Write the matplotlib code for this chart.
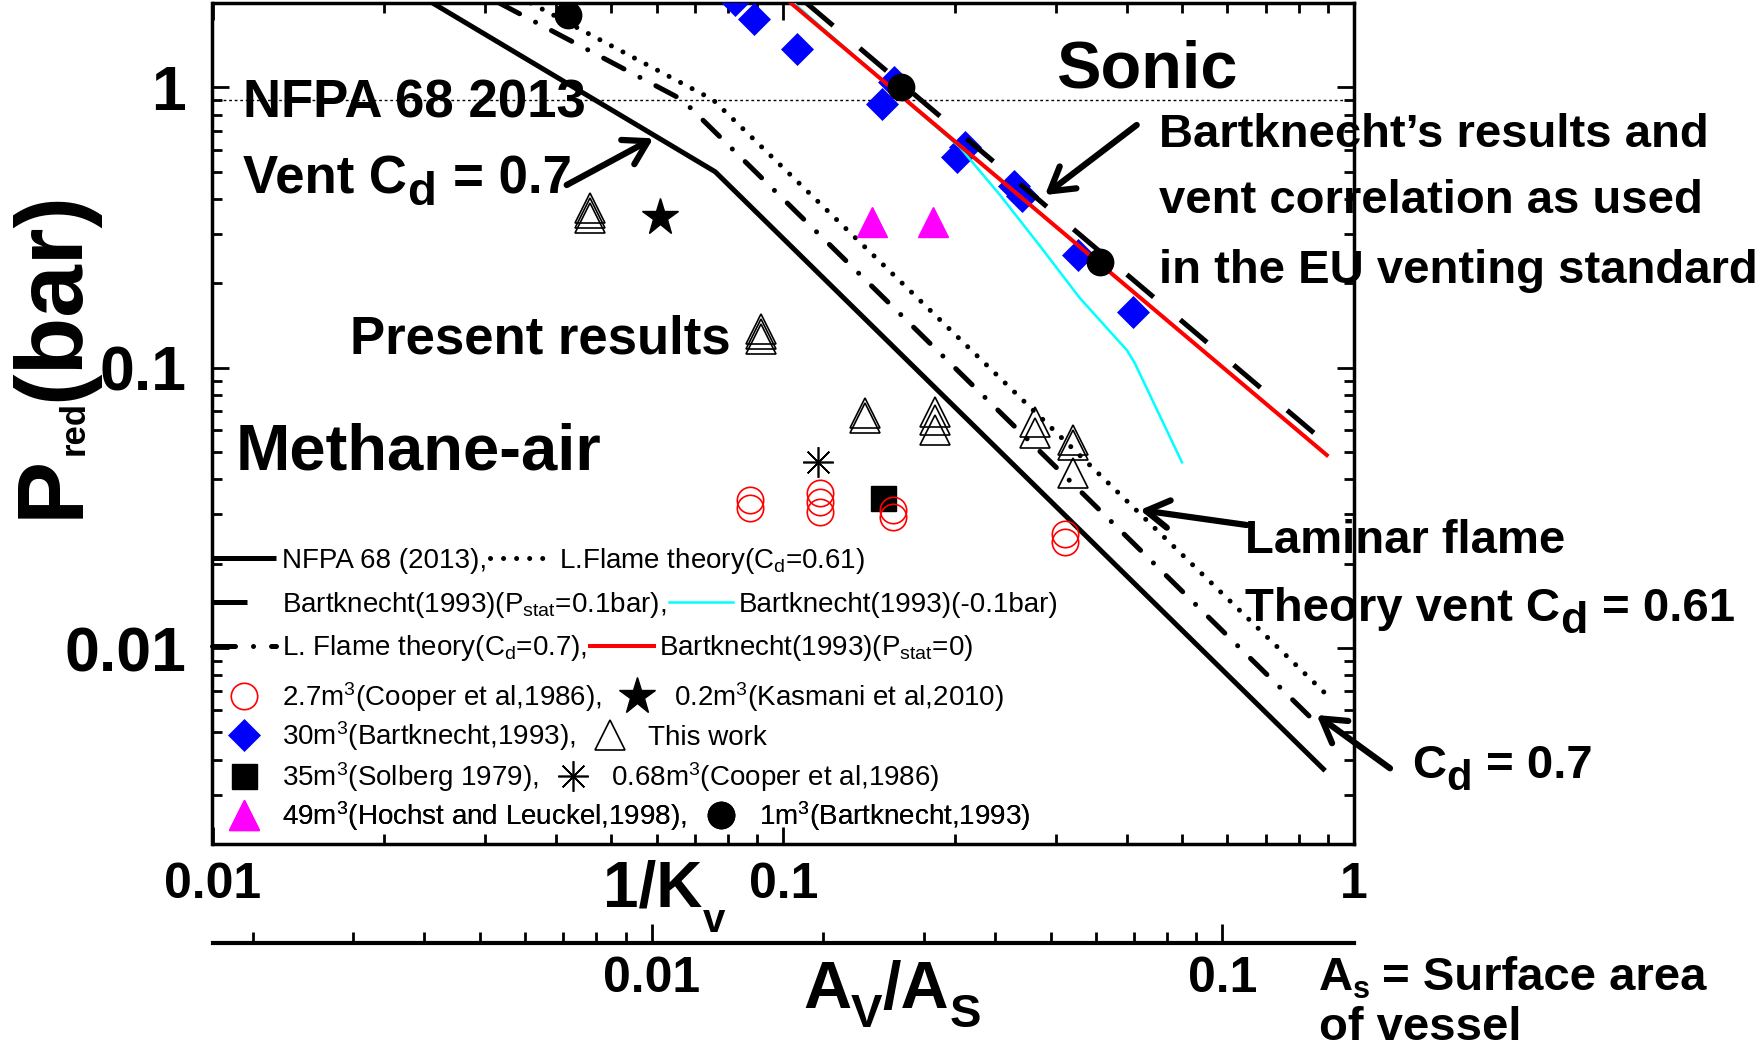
import matplotlib
matplotlib.use('Agg')
import matplotlib.pyplot as plt
from matplotlib.ticker import NullFormatter, LogLocator

plt.rcParams['font.family'] = ['Liberation Sans', 'DejaVu Sans']
plt.rcParams['mathtext.fontset'] = 'custom'
plt.rcParams['mathtext.rm'] = 'Liberation Sans'
plt.rcParams['mathtext.it'] = 'Liberation Sans:italic'
plt.rcParams['mathtext.bf'] = 'Liberation Sans:bold'

W, H = 1765, 1049

# ---- data: x = 1/Kv, y = Pred (bar) ----
nfpa_x = [0.0243, 0.076, 0.89]
nfpa_y = [2.0, 0.5, 0.00365]
lf061_x = [0.0361, 0.0753, 0.89]
lf061_y = [2.0, 0.904, 0.0069]
lf07_x = [0.0318, 0.0665, 0.848]
lf07_y = [2.0, 0.904, 0.00554]
bk0_x = [0.1028, 0.896]
bk0_y = [2.01, 0.0488]
bk01_x = [0.1098, 0.901]
bk01_y = [2.0, 0.053]
bkm01_x = [0.104, 0.160, 0.204, 0.240, 0.282, 0.331, 0.400, 0.413, 0.4995]
bkm01_y = [2.01, 0.936, 0.611, 0.412, 0.271, 0.177, 0.1155, 0.1038, 0.046]
sonic_y = 0.9

cooper27_x = [0.0874, 0.0874, 0.116, 0.116, 0.116, 0.1559, 0.1559, 0.3117, 0.3117]
cooper27_y = [0.0337, 0.0315, 0.0356, 0.0332, 0.0306, 0.031, 0.0294, 0.0256, 0.0239]
kasmani_x = [0.0607]
kasmani_y = [0.345]
bart30_x = [0.0823, 0.0889, 0.1056, 0.1563, 0.1488, 0.2082, 0.2016, 0.2537, 0.262, 0.3289, 0.4095]
bart30_y = [2.05, 1.748, 1.374, 1.042, 0.870, 0.611, 0.563, 0.4436, 0.4088, 0.2518, 0.158]
work_x = [0.04585, 0.04585, 0.04585, 0.139, 0.139, 0.1845, 0.1845, 0.1845,
          0.276, 0.276, 0.3222, 0.3222, 0.3222]
work_y = [0.370, 0.355, 0.341, 0.0687, 0.0659, 0.0696, 0.065, 0.0599,
          0.0641, 0.0583, 0.0551, 0.0529, 0.042]
solberg_x = [0.1497]
solberg_y = [0.0342]
cooper068_x = [0.1149]
cooper068_y = [0.0461]
hochst_x = [0.1429, 0.1827]
hochst_y = [0.331, 0.331]
bart1_x = [0.042, 0.1606, 0.359]
bart1_y = [1.806, 1.0, 0.2383]

# Av/As = (1/Kv) / kv_to_area
kv_to_area = 5.88

fig = plt.figure(figsize=(W / 100, H / 100), dpi=100)
ax = fig.add_axes([212.5 / W, (H - 844) / H, (1354 - 212.5) / W, (844 - 3) / H])
ax.set_xscale('log')
ax.set_yscale('log')
ax.set_xlim(0.01, 1)
ax.set_ylim(0.002, 2)

lw = 3.6
ax.axhline(sonic_y, color='black', lw=1.0, ls=(0, (2, 2)), zorder=1)
l_nfpa, = ax.plot(nfpa_x, nfpa_y, color='black', lw=lw, solid_capstyle='butt')
l_lf061, = ax.plot(lf061_x, lf061_y, color='black', lw=lw, dashes=(0.01, 2.6),
                   dash_capstyle='round')
l_lf07, = ax.plot(lf07_x, lf07_y, color='black', lw=lw, dashes=(4.6, 3.6, 0.01, 3.6),
                  dash_capstyle='round')

m_bart30, = ax.plot(bart30_x, bart30_y, ls='none', marker='D', ms=16, mfc='#0000ff',
                    mec='#0000ff', mew=0.5, zorder=3)
l_bkm01, = ax.plot(bkm01_x, bkm01_y, color='#00ffff', lw=1.8, zorder=4)
l_bk01, = ax.plot(bk01_x, bk01_y, color='black', lw=lw, dashes=(7, 7), zorder=4)
l_bk0, = ax.plot(bk0_x, bk0_y, color='#ff0000', lw=2.9, zorder=5)
m_bart1, = ax.plot(bart1_x, bart1_y, ls='none', marker='o', ms=19, mfc='black',
                   mec='black', zorder=6)

m_cooper27, = ax.plot(cooper27_x, cooper27_y, ls='none', marker='o', ms=19, mfc='none',
                      mec='#ff0000', mew=1.2, zorder=3)
m_kasmani, = ax.plot(kasmani_x, kasmani_y, ls='none', marker='*', ms=28, mfc='black',
                     mec='black', zorder=3)
m_work, = ax.plot(work_x, work_y, ls='none', marker='^', ms=21, mfc='none',
                  mec='black', mew=1.2, zorder=3)
m_solberg, = ax.plot(solberg_x, solberg_y, ls='none', marker='s', ms=18, mfc='black',
                     mec='black', zorder=2)
m_cooper068, = ax.plot(cooper068_x, cooper068_y, ls='none', marker=(8, 2, 0), ms=22,
                       mec='black', mew=1.2, zorder=3)
m_hochst, = ax.plot(hochst_x, hochst_y, ls='none', marker='^', ms=22, mfc='#ff00ff',
                    mec='#ff00ff', zorder=3)

# ---- axes styling ----
for sp in ax.spines.values():
    sp.set_linewidth(2.5)
ax.tick_params(which='both', direction='in', top=True, right=True, width=2)
ax.tick_params(which='major', length=12)
ax.tick_params(which='minor', length=7)
ax.tick_params(axis='x', which='major', pad=13)
ax.tick_params(axis='y', which='major', pad=19)
ax.set_xticks([0.01, 0.1, 1])
ax.set_xticklabels(['0.01', '0.1', '1'], fontsize=36, fontweight='bold')
ax.set_yticks([0.01, 0.1, 1])
ax.set_yticklabels(['0.01', '0.1', '1'], fontsize=45, fontweight='bold')
ax.xaxis.set_minor_locator(LogLocator(subs=range(2, 10)))
ax.yaxis.set_minor_locator(LogLocator(subs=range(2, 10)))
ax.xaxis.set_minor_formatter(NullFormatter())
ax.yaxis.set_minor_formatter(NullFormatter())

sec = ax.secondary_xaxis(-(943 - 844) / 841,
                         functions=(lambda v: v / kv_to_area, lambda v: v * kv_to_area))
sec.spines['bottom'].set_linewidth(3)
sec.set_xticks([0.01, 0.1])
sec.set_xticklabels(['0.01', '0.1'], fontsize=36, fontweight='bold')
sec.xaxis.set_minor_locator(LogLocator(subs=range(2, 10)))
sec.xaxis.set_minor_formatter(NullFormatter())
sec.tick_params(which='both', direction='in', width=2)
sec.tick_params(which='major', length=14, pad=9)
sec.tick_params(which='minor', length=8)

# ---- legend: one row per legend, entries run on after each other ----
rows = [
    ([l_nfpa, l_lf061], ['NFPA 68 (2013),', r'L.Flame theory(C$_\mathrm{d}$=0.61)']),
    ([l_bk01, l_bkm01], [r'Bartknecht(1993)(P$_\mathrm{stat}$=0.1bar),', 'Bartknecht(1993)(-0.1bar)']),
    ([l_lf07, l_bk0], [r'L. Flame theory(C$_\mathrm{d}$=0.7),', r'Bartknecht(1993)(P$_\mathrm{stat}$=0)']),
    ([m_cooper27, m_kasmani], [r'2.7m$^\mathrm{3}$(Cooper et al,1986),', r'0.2m$^\mathrm{3}$(Kasmani et al,2010)']),
    ([m_bart30, m_work], [r'30m$^\mathrm{3}$(Bartknecht,1993),', 'This work']),
    ([m_solberg, m_cooper068], [r'35m$^\mathrm{3}$(Solberg 1979),', r'0.68m$^\mathrm{3}$(Cooper et al,1986)']),
    ([m_hochst, m_bart1], [r'49m$^\mathrm{3}$(Hochst and Leuckel,1998),', r'1m$^\mathrm{3}$(Bartknecht,1993)']),
]
row_y = [560.6, 604.5, 648.4, 696.8, 736.2, 776.7, 816.1]
for (hs, labs), yy in zip(rows, row_y):
    leg = ax.legend(hs, labs, ncol=2, loc='center left', bbox_to_anchor=(0, (844 - yy) / 841),
                    frameon=False, fontsize=20, handlelength=2.3, handletextpad=0.2,
                    columnspacing=0.1, borderpad=0, borderaxespad=0, numpoints=1)
    ax.add_artist(leg)

# ---- annotations ----
renderer = fig.canvas.get_renderer()


def fx(x, y):
    return x / W, 1 - y / H


def rich(x, y, parts, rot=0):
    # parts: (text, size, drop in px, gap before in px); x, y = baseline start, px from top-left
    for s, size, drop, gap in parts:
        if rot:
            y -= gap
            t = fig.text(*fx(x + drop, y), s, fontsize=size, fontweight='bold', rotation=90,
                         rotation_mode='anchor', ha='left', va='baseline')
            y -= t.get_window_extent(renderer).height
        else:
            x += gap
            t = fig.text(*fx(x, y + drop), s, fontsize=size, fontweight='bold',
                         ha='left', va='baseline')
            x += t.get_window_extent(renderer).width


def label(x, y, s, size):
    fig.text(*fx(x, y), s, fontsize=size, fontweight='bold', ha='left', va='baseline')


def arrow(tail, tip):
    ax.annotate('', xy=fx(*tip), xytext=fx(*tail), xycoords='figure fraction',
                textcoords='figure fraction',
                arrowprops=dict(arrowstyle='->,head_length=0.75,head_width=0.45', lw=4.5,
                                color='black', mutation_scale=22, shrinkA=0, shrinkB=0))


label(243, 118, 'NFPA 68 2013', 38)
rich(243, 193, [('Vent C', 38, 0, 0), ('d', 34, 12, 0), ('= 0.7', 38, 0, 17)])
label(1056, 88, 'Sonic', 48)
label(1159, 147, 'Bartknecht\u2019s results and', 34)
label(1159, 213, 'vent correlation as used', 34)
label(1159, 283, 'in the EU venting standard', 34)
label(350, 353, 'Present results', 38)
ax.plot([0.4805] * 3, [0.612, 0.606, 0.600], transform=ax.transAxes, ls='none', marker='^',
        ms=21, mfc='none', mec='black', mew=1.2, clip_on=False)
label(236, 470, 'Methane-air', 47)
label(1245, 553, 'Laminar flame', 34)
rich(1245, 621, [('Theory vent C', 34, 0, 0), ('d', 32, 12, 0), ('= 0.61', 34, 0, 15)])
rich(1412, 778, [('C', 34, 0, 0), ('d', 30, 12, 0), ('= 0.7', 34, 0, 15)])
rich(603, 907, [('1/K', 46, 0, 0), ('v', 29, 25, 0)])
rich(803, 1008, [('A', 48, 0, 0), ('V', 34, 19, 0), ('/A', 48, 0, 0), ('S', 34, 19, 0)])
rich(1319, 990, [('A', 34, 0, 0), ('s', 22, 8, 0), ('= Surface area', 34, 0, 12)])
label(1319, 1040, 'of vessel', 34)
rich(78, 518, [('P', 68, 0, 0), ('red', 25, 6, 0), ('(bar)', 68, 0, 0)], rot=90)

arrow((566.7, 185), (653.3, 138.3))
arrow((1136.7, 125), (1045, 195))
arrow((1246.7, 525), (1140, 510))
arrow((1390, 768.3), (1316.7, 715))

fig.savefig('out.png', dpi=100)
